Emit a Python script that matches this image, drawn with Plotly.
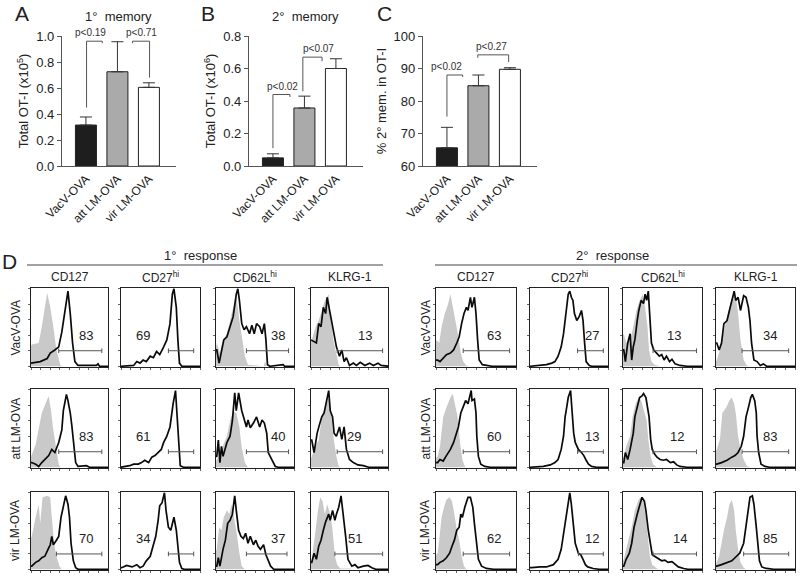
import plotly.graph_objects as go

W, H = 800, 577
FONT = "Liberation Sans, Arial, sans-serif"

def fx(p):
    return p / W

def fy(p):
    return 1 - p / H

# ---------------- top bar charts ----------------
groups = ["VacV-OVA", "att LM-OVA", "vir LM-OVA"]
bar_colors = ["#1e1e1e", "#aaaaaa", "#ffffff"]

A_vals = [0.315, 0.725, 0.605]
A_err = [0.062, 0.231, 0.035]
B_vals = [0.05, 0.357, 0.60]
B_err = [0.025, 0.073, 0.06]
C_vals = [65.6, 84.7, 89.75]
C_err = [6.3, 3.3, 0.5]

A_ticks = [0.0, 0.2, 0.4, 0.6, 0.8, 1.0]
B_ticks = [0.0, 0.2, 0.4, 0.6, 0.8]
C_ticks = [60, 70, 80, 90, 100]

# brackets: x_left, x_right, y_top, y_left_bottom, y_right_bottom, label, label_x
A_brackets = [(0.02, 0.52, 0.96, 0.45, 0.945, "p<0.19", 0.16),
              (1.48, 2.02, 0.96, 0.945, 0.68, "p<0.71", 1.76)]
B_brackets = [(0.0, 0.54, 0.44, 0.11, 0.425, "p<0.02", 0.29),
              (0.95, 1.56, 0.67, 0.46, 0.645, "p<0.07", 1.46)]
C_brackets = [(0.0, 0.5, 88.0, 75.2, 87.4, "p<0.02", -0.02),
              (0.98, 1.96, 94.2, 93.3, 92.0, "p<0.27", 1.43)]

# ---------------- flow histograms (x: 0-100 of box, y: 0-100 of box) ----------------
markers = ["CD127", "CD27<sup>hi</sup>", "CD62L<sup>hi</sup>", "KLRG-1"]

# 1° response, VacV-OVA
p1_vacv_cd127_grey = [(0, 26), (1, 28), (10, 30), (14, 51), (21, 95), (25, 76), (29, 51), (33, 21), (38, 2), (40, 0)]
p1_vacv_cd127_black = [(0, 4), (12, 6), (21, 10), (25, 17), (31, 21), (36, 25), (40, 44), (44, 72), (48, 97), (51, 68), (54, 30), (57, 6), (61, 1), (85, 1), (87, 3), (89, 0), (100, 0)]
p1_vacv_cd27_grey = []
p1_vacv_cd27_black = [(0, 0), (16, 1), (20, 6), (24, 4), (28, 8), (32, 6), (37, 13), (41, 11), (45, 19), (49, 15), (54, 25), (58, 34), (62, 55), (65, 93), (67, 100), (70, 76), (72, 34), (74, 4), (77, 0), (100, 0)]
p1_vacv_cd62l_grey = [(0, 25), (1, 30), (5, 17), (9, 34), (14, 42), (18, 59), (22, 76), (26, 93), (30, 59), (33, 38), (37, 13), (41, 2), (61, 0), (63, 6), (65, 0)]
p1_vacv_cd62l_black = [(0, 21), (1, 21), (4, 4), (7, 21), (10, 34), (14, 38), (18, 51), (22, 64), (26, 93), (28, 100), (30, 85), (33, 55), (36, 47), (39, 51), (43, 42), (46, 53), (49, 42), (52, 55), (56, 51), (59, 42), (62, 55), (64, 34), (66, 2), (69, 0), (86, 2), (88, 0), (100, 0)]
p1_vacv_klrg_grey = [(0, 32), (1, 34), (6, 51), (10, 59), (14, 72), (18, 85), (23, 93), (25, 68), (29, 34), (33, 13), (36, 2), (38, 0)]
p1_vacv_klrg_black = [(0, 34), (3, 32), (7, 30), (10, 55), (13, 51), (16, 76), (19, 68), (21, 89), (24, 72), (27, 59), (30, 38), (33, 25), (37, 13), (40, 21), (43, 6), (46, 11), (50, 1), (55, 4), (59, 1), (64, 5), (70, 1), (76, 4), (81, 1), (87, 4), (91, 1), (100, 0)]

# 1° response, att LM-OVA
p1_att_cd127_grey = [(0, 14), (1, 16), (6, 29), (10, 48), (14, 70), (18, 80), (23, 92), (26, 73), (29, 48), (33, 23), (36, 4), (38, 0)]
p1_att_cd127_black = [(0, 6), (1, 6), (6, 4), (10, 1), (14, 6), (18, 10), (23, 15), (27, 23), (31, 19), (36, 32), (40, 48), (42, 73), (45, 92), (46, 94), (48, 86), (51, 70), (53, 54), (56, 23), (58, 6), (61, 1), (72, 2), (76, 0), (100, 0)]
p1_att_cd27_grey = []
p1_att_cd27_black = [(0, 0), (11, 2), (16, 4), (22, 4), (26, 6), (30, 9), (35, 6), (39, 13), (43, 15), (47, 19), (51, 23), (54, 32), (58, 40), (62, 52), (64, 71), (66, 82), (69, 99), (71, 61), (73, 23), (75, 2), (79, 0), (100, 0)]
p1_att_cd62l_grey = [(0, 8), (1, 10), (5, 15), (9, 28), (14, 40), (18, 60), (22, 72), (26, 70), (30, 52), (33, 25), (37, 6), (41, 0)]
p1_att_cd62l_black = [(0, 14), (1, 14), (3, 35), (5, 6), (7, 27), (9, 14), (14, 32), (18, 40), (21, 60), (24, 96), (26, 73), (29, 96), (33, 73), (36, 61), (39, 52), (41, 61), (44, 51), (48, 57), (52, 65), (56, 52), (59, 61), (62, 57), (65, 44), (67, 19), (70, 13), (74, 6), (76, 1), (80, 0), (100, 0)]
p1_att_klrg_grey = [(0, 12), (1, 14), (6, 27), (10, 35), (14, 65), (18, 77), (23, 90), (26, 73), (29, 40), (33, 14), (36, 1), (38, 0)]
p1_att_klrg_black = [(0, 35), (1, 35), (4, 19), (8, 44), (11, 55), (14, 65), (17, 70), (21, 92), (23, 99), (25, 73), (28, 65), (30, 44), (33, 40), (37, 52), (40, 36), (43, 52), (46, 23), (50, 10), (55, 6), (61, 3), (68, 2), (75, 0), (100, 0)]

# 1° response, vir LM-OVA
p1_vir_cd127_grey = [(0, 40), (1, 43), (6, 68), (10, 85), (12, 60), (15, 94), (21, 96), (25, 94), (27, 68), (30, 34), (33, 17), (37, 4), (40, 0)]
p1_vir_cd127_black = [(0, 4), (1, 4), (6, 9), (10, 11), (14, 15), (18, 17), (23, 28), (25, 32), (27, 43), (29, 32), (33, 38), (36, 43), (39, 68), (42, 81), (45, 96), (48, 85), (50, 68), (52, 34), (55, 11), (58, 2), (61, 0), (100, 0)]
p1_vir_cd27_grey = []
p1_vir_cd27_black = [(0, 2), (1, 2), (7, 5), (14, 3), (20, 6), (24, 2), (28, 4), (32, 11), (37, 17), (41, 30), (44, 43), (47, 64), (49, 83), (52, 87), (55, 100), (57, 77), (60, 55), (63, 51), (65, 62), (67, 68), (70, 51), (72, 30), (74, 9), (77, 1), (80, 0), (100, 0)]
p1_vir_cd62l_grey = [(0, 24), (1, 26), (4, 55), (7, 51), (10, 68), (14, 77), (17, 72), (20, 85), (23, 68), (26, 51), (30, 21), (33, 4), (37, 0)]
p1_vir_cd62l_black = [(0, 4), (1, 4), (3, 15), (5, 4), (9, 26), (12, 38), (15, 60), (18, 64), (21, 72), (24, 96), (26, 77), (29, 51), (32, 43), (35, 40), (38, 47), (41, 34), (44, 43), (48, 32), (51, 38), (54, 30), (57, 26), (61, 32), (64, 19), (67, 11), (70, 4), (74, 0), (100, 0)]
p1_vir_klrg_grey = [(0, 11), (1, 13), (6, 51), (9, 77), (12, 94), (15, 89), (18, 72), (21, 85), (25, 72), (28, 51), (31, 17), (34, 6), (38, 1), (51, 1), (53, 0)]
p1_vir_klrg_black = [(0, 9), (1, 9), (4, 21), (7, 13), (10, 30), (13, 38), (16, 51), (19, 62), (23, 72), (25, 64), (28, 77), (31, 64), (33, 72), (36, 81), (39, 96), (42, 72), (45, 43), (48, 13), (53, 4), (57, 6), (61, 2), (68, 4), (74, 5), (79, 2), (84, 0), (100, 0)]

# 2° response, VacV-OVA
p2_vacv_cd127_grey = [(0, 32), (1, 34), (4, 30), (7, 51), (11, 68), (15, 80), (18, 93), (22, 68), (25, 55), (28, 38), (31, 17), (34, 6), (38, 1), (42, 0)]
p2_vacv_cd127_black = [(0, 8), (2, 8), (5, 6), (9, 11), (13, 15), (18, 17), (22, 21), (26, 30), (29, 38), (32, 55), (35, 68), (38, 76), (40, 72), (43, 89), (45, 76), (48, 89), (50, 68), (52, 34), (54, 8), (58, 2), (64, 1), (70, 0), (100, 0)]
p2_vacv_cd27_grey = []
p2_vacv_cd27_black = [(0, 0), (13, 1), (21, 2), (28, 4), (32, 6), (36, 13), (40, 25), (43, 42), (45, 59), (47, 76), (49, 93), (51, 97), (53, 89), (55, 85), (57, 68), (60, 59), (63, 64), (66, 72), (68, 59), (70, 30), (72, 6), (76, 1), (79, 0), (100, 0)]
p2_vacv_cd62l_grey = [(0, 40), (1, 42), (4, 30), (9, 34), (13, 51), (17, 72), (21, 85), (25, 93), (28, 76), (31, 51), (33, 21), (36, 6), (40, 2), (47, 0)]
p2_vacv_cd62l_black = [(0, 21), (1, 21), (3, 6), (6, 30), (9, 42), (11, 8), (13, 25), (15, 34), (18, 59), (20, 72), (23, 85), (26, 81), (28, 93), (30, 85), (32, 97), (34, 68), (36, 30), (39, 21), (43, 17), (46, 13), (49, 15), (52, 8), (55, 13), (59, 6), (62, 9), (66, 3), (72, 1), (81, 0), (100, 0)]
p2_vacv_klrg_grey = [(0, 6), (1, 8), (5, 21), (9, 42), (14, 64), (18, 80), (22, 93), (25, 89), (28, 68), (31, 34), (35, 8), (39, 1), (43, 0)]
p2_vacv_klrg_black = [(0, 30), (1, 30), (4, 21), (7, 30), (10, 55), (14, 59), (17, 72), (20, 85), (23, 97), (25, 85), (28, 89), (31, 72), (35, 91), (38, 89), (41, 76), (43, 59), (45, 30), (48, 8), (52, 6), (56, 1), (60, 3), (64, 0), (100, 0)]

# 2° response, att LM-OVA
p2_att_cd127_grey = [(0, 12), (2, 14), (5, 27), (9, 65), (13, 77), (18, 90), (21, 95), (24, 80), (27, 65), (30, 32), (33, 10), (36, 1), (38, 0)]
p2_att_cd127_black = [(0, 6), (2, 6), (5, 10), (9, 8), (13, 15), (18, 23), (22, 32), (26, 44), (28, 52), (31, 70), (34, 77), (37, 86), (40, 82), (42, 90), (44, 99), (45, 86), (48, 88), (50, 70), (51, 40), (53, 14), (56, 4), (61, 1), (68, 0), (100, 0)]
p2_att_cd27_grey = []
p2_att_cd27_black = [(0, 0), (17, 1), (26, 3), (32, 6), (36, 10), (40, 23), (43, 40), (45, 65), (47, 77), (49, 90), (52, 99), (53, 86), (55, 65), (56, 44), (58, 32), (62, 23), (66, 19), (69, 15), (72, 9), (75, 4), (79, 1), (85, 0), (100, 0)]
p2_att_cd62l_grey = [(0, 12), (1, 14), (4, 27), (9, 40), (12, 65), (16, 82), (20, 90), (23, 86), (26, 75), (30, 60), (32, 36), (35, 14), (38, 4), (43, 0)]
p2_att_cd62l_black = [(0, 6), (1, 6), (3, 19), (6, 10), (9, 23), (11, 32), (13, 44), (15, 65), (18, 77), (21, 90), (24, 92), (26, 95), (29, 90), (31, 77), (33, 65), (35, 36), (37, 23), (40, 17), (43, 13), (47, 10), (51, 9), (55, 10), (60, 6), (64, 7), (68, 3), (72, 1), (81, 0), (100, 0)]
p2_att_klrg_grey = [(0, 21), (1, 23), (5, 36), (8, 70), (13, 77), (17, 86), (20, 90), (23, 82), (25, 70), (28, 40), (31, 23), (35, 10), (39, 2), (43, 0)]
p2_att_klrg_black = [(0, 4), (1, 4), (7, 6), (14, 9), (20, 13), (24, 15), (28, 19), (32, 27), (35, 40), (38, 65), (41, 77), (44, 90), (46, 94), (49, 86), (51, 70), (52, 40), (54, 19), (57, 4), (62, 1), (68, 0), (100, 0)]

# 2° response, vir LM-OVA
p2_vir_cd127_grey = [(0, 19), (2, 21), (4, 38), (7, 68), (10, 81), (13, 91), (17, 94), (20, 89), (23, 72), (26, 51), (29, 38), (32, 17), (35, 4), (38, 0)]
p2_vir_cd127_black = [(0, 6), (2, 6), (5, 9), (9, 11), (13, 15), (17, 21), (20, 30), (23, 38), (26, 51), (29, 55), (31, 72), (33, 68), (36, 81), (38, 87), (40, 94), (43, 94), (46, 81), (48, 60), (51, 34), (53, 13), (57, 4), (63, 1), (72, 0), (100, 0)]
p2_vir_cd27_grey = []
p2_vir_cd27_black = [(0, 2), (2, 2), (13, 3), (21, 3), (30, 6), (36, 13), (40, 26), (43, 47), (46, 68), (49, 85), (51, 100), (53, 85), (55, 60), (58, 34), (62, 21), (65, 19), (68, 13), (71, 6), (74, 3), (81, 1), (89, 0), (100, 0)]
p2_vir_cd62l_grey = [(0, 11), (1, 13), (4, 26), (8, 43), (11, 55), (15, 77), (19, 89), (22, 94), (26, 87), (29, 68), (31, 43), (34, 17), (37, 6), (43, 1), (46, 0)]
p2_vir_cd62l_black = [(0, 4), (1, 4), (4, 13), (8, 21), (11, 34), (14, 55), (18, 72), (21, 85), (24, 94), (27, 89), (29, 77), (32, 51), (35, 30), (37, 19), (40, 17), (45, 13), (49, 11), (53, 12), (57, 9), (62, 10), (66, 6), (70, 3), (77, 1), (82, 0), (100, 0)]
p2_vir_klrg_grey = [(0, 7), (1, 9), (4, 17), (7, 34), (10, 51), (14, 68), (17, 85), (20, 91), (23, 77), (25, 51), (28, 26), (31, 9), (35, 2), (38, 0)]
p2_vir_klrg_black = [(0, 4), (1, 4), (7, 6), (14, 9), (20, 11), (26, 17), (30, 21), (35, 34), (38, 55), (41, 77), (43, 94), (46, 96), (48, 85), (51, 55), (53, 30), (55, 11), (58, 3), (64, 1), (73, 0), (100, 0)]

# gates: (start, end, percentage label, label x) per panel, rows = infection, cols = marker
p1_gates = [
    [(36, 92, "83", 72), (60, 92, "69", 28), (39, 93, "38", 80), (34, 93, "13", 70)],
    [(36, 92, "83", 72), (60, 92, "61", 28), (39, 93, "40", 80), (34, 93, "29", 56)],
    [(33, 92, "70", 72), (60, 92, "34", 28), (39, 91, "37", 80), (31, 93, "51", 57)],
]
p2_gates = [
    [(34, 92, "63", 72), (61, 94, "27", 79), (38, 93, "13", 64), (33, 92, "34", 68)],
    [(34, 92, "60", 72), (61, 94, "13", 80), (38, 93, "12", 68), (33, 92, "83", 68)],
    [(34, 92, "62", 72), (62, 94, "12", 80), (38, 93, "14", 72), (35, 92, "85", 68)],
]

p1_hists = [
    [(p1_vacv_cd127_grey, p1_vacv_cd127_black), (p1_vacv_cd27_grey, p1_vacv_cd27_black),
     (p1_vacv_cd62l_grey, p1_vacv_cd62l_black), (p1_vacv_klrg_grey, p1_vacv_klrg_black)],
    [(p1_att_cd127_grey, p1_att_cd127_black), (p1_att_cd27_grey, p1_att_cd27_black),
     (p1_att_cd62l_grey, p1_att_cd62l_black), (p1_att_klrg_grey, p1_att_klrg_black)],
    [(p1_vir_cd127_grey, p1_vir_cd127_black), (p1_vir_cd27_grey, p1_vir_cd27_black),
     (p1_vir_cd62l_grey, p1_vir_cd62l_black), (p1_vir_klrg_grey, p1_vir_klrg_black)],
]
p2_hists = [
    [(p2_vacv_cd127_grey, p2_vacv_cd127_black), (p2_vacv_cd27_grey, p2_vacv_cd27_black),
     (p2_vacv_cd62l_grey, p2_vacv_cd62l_black), (p2_vacv_klrg_grey, p2_vacv_klrg_black)],
    [(p2_att_cd127_grey, p2_att_cd127_black), (p2_att_cd27_grey, p2_att_cd27_black),
     (p2_att_cd62l_grey, p2_att_cd62l_black), (p2_att_klrg_grey, p2_att_klrg_black)],
    [(p2_vir_cd127_grey, p2_vir_cd127_black), (p2_vir_cd27_grey, p2_vir_cd27_black),
     (p2_vir_cd62l_grey, p2_vir_cd62l_black), (p2_vir_klrg_grey, p2_vir_klrg_black)],
]

# ---------------- layout geometry (pixels) ----------------
bar_x_px = [(62, 176), (249, 363), (423, 537)]
bar_y_px = (36, 166)
g1_cols = [(31, 108), (121, 200), (216, 294), (311, 388)]
g2_cols = [(436, 516), (530, 608), (623, 702), (716, 795)]
hist_rows = [(288, 367), (389, 468), (492, 570)]

fig = go.Figure()
layout = dict(width=W, height=H, margin=dict(l=0, r=0, t=0, b=0, autoexpand=False),
              paper_bgcolor="white", plot_bgcolor="white", showlegend=False,
              font=dict(family=FONT, color="#222", size=12))
shapes = []
annotations = []

AX = "#555555"


def text_at(t, x, y, size, angle=0, color="#222"):
    annotations.append(dict(x=fx(x), y=fy(y), xref="paper", yref="paper", text=t,
                            xanchor="center", yanchor="middle", textangle=angle,
                            showarrow=False, font=dict(size=size, color=color)))


bar_sets = [(A_vals, A_err, A_ticks, [0, 1.0], ".1f", "Total OT-I (x10<sup>5</sup>)", A_brackets),
            (B_vals, B_err, B_ticks, [0, 0.8], ".1f", "Total OT-I (x10<sup>6</sup>)", B_brackets),
            (C_vals, C_err, C_ticks, [60, 100], "d", "% 2° mem. in OT-I", C_brackets)]

for i, (vals, err, ticks, yr, fmt, ytitle, brackets) in enumerate(bar_sets):
    n = i + 1
    sfx = "" if n == 1 else str(n)
    base = yr[0]
    fig.add_trace(go.Bar(
        x=groups, y=[v - base for v in vals], base=base,
        marker=dict(color=bar_colors, line=dict(color="#222", width=1)),
        width=0.667,
        error_y=dict(type="data", symmetric=False, array=err, arrayminus=[0, 0, 0],
                     color="#333", thickness=1, width=6),
        xaxis="x" + sfx, yaxis="y" + sfx, hoverinfo="skip"))
    x0, x1 = bar_x_px[i]
    layout["xaxis" + sfx] = dict(domain=[fx(x0), fx(x1)], anchor="y" + sfx,
                                 range=[-0.76, 2.86], type="category", automargin=False,
                                 showline=True, linecolor=AX, linewidth=1.2,
                                 ticks="", tickangle=-45,
                                 tickfont=dict(size=12, color="#222"), showgrid=False,
                                 zeroline=False, fixedrange=True)
    layout["yaxis" + sfx] = dict(domain=[fy(bar_y_px[1]), fy(bar_y_px[0])], anchor="x" + sfx,
                                 range=yr, tickvals=ticks, tickformat=fmt, automargin=False,
                                 showline=True, linecolor=AX, linewidth=1.2,
                                 ticks="outside", ticklen=4, tickcolor=AX,
                                 tickfont=dict(size=13, color="#222"), showgrid=False,
                                 zeroline=False,
                                 title=dict(text=ytitle, font=dict(size=13, color="#222"), standoff=4))
    for (xl, xr, yt, ylb, yrb, lab, lx) in brackets:
        for (a, b, c, d) in [(xl, yt, xr, yt), (xl, yt, xl, ylb), (xr, yt, xr, yrb)]:
            shapes.append(dict(type="line", xref="x" + sfx, yref="y" + sfx,
                               x0=a, y0=b, x1=c, y1=d, line=dict(color="#555", width=1)))
        annotations.append(dict(x=lx, y=yt, xref="x" + sfx, yref="y" + sfx, text=lab,
                                xanchor="center", yanchor="bottom", yshift=1,
                                showarrow=False, font=dict(size=10, color="#333")))

# panel letters and titles
for (t, x, y) in [("A", 22, 13), ("B", 208, 13), ("C", 384, 13), ("D", 9, 262)]:
    text_at(t, x, y, 21)
for (t, x, y) in [("1°  memory", 118, 17), ("2°  memory", 305, 17),
                  ("1°  response", 200, 255), ("2°  response", 612, 255)]:
    text_at(t, x, y, 13)

# header rules for D
for (a, b) in [(27, 383), (435, 797)]:
    shapes.append(dict(type="line", xref="paper", yref="paper", x0=fx(a), x1=fx(b),
                       y0=fy(265), y1=fy(265), line=dict(color="#444", width=1)))

# histograms
ax_n = 4
for gi, (cols, hists, gates, lab_x) in enumerate([(g1_cols, p1_hists, p1_gates, 15),
                                                   (g2_cols, p2_hists, p2_gates, 425)]):
    for ci, (cx0, cx1) in enumerate(cols):
        text_at(markers[ci], (cx0 + cx1) / 2, 277, 12)
    for ri, (ry0, ry1) in enumerate(hist_rows):
        text_at(groups[ri], lab_x, (ry0 + ry1) / 2, 12, angle=-90)
        for ci, (cx0, cx1) in enumerate(cols):
            xa, ya = "x%d" % ax_n, "y%d" % ax_n
            grey, black = hists[ri][ci]
            if grey:
                fig.add_trace(go.Scatter(x=[p[0] for p in grey], y=[p[1] for p in grey],
                                         mode="lines", fill="tozeroy", fillcolor="#c9c9c9",
                                         line=dict(width=0, color="#c9c9c9"),
                                         xaxis=xa, yaxis=ya, hoverinfo="skip"))
            fig.add_trace(go.Scatter(x=[p[0] for p in black], y=[p[1] for p in black],
                                     mode="lines", line=dict(width=1.7, color="#0a0a0a"),
                                     xaxis=xa, yaxis=ya, hoverinfo="skip"))
            layout["xaxis%d" % ax_n] = dict(domain=[fx(cx0), fx(cx1)], anchor=ya, range=[0, 100],
                                            automargin=False,
                                            showline=True, mirror=True, linecolor="#222", linewidth=1,
                                            ticks="outside", ticklen=2, tickcolor="#666",
                                            tickvals=[0, 12.5, 25, 37.5, 50, 62.5, 75, 87.5, 100],
                                            showticklabels=False, showgrid=False, zeroline=False)
            layout["yaxis%d" % ax_n] = dict(domain=[fy(ry1), fy(ry0)], anchor=xa, range=[-1, 101],
                                            automargin=False,
                                            showline=True, mirror=True, linecolor="#222", linewidth=1,
                                            ticks="outside", ticklen=2, tickcolor="#666",
                                            tickvals=[0, 20, 40, 60, 80, 100],
                                            showticklabels=False, showgrid=False, zeroline=False)
            gs, ge, glab, glx = gates[ri][ci]
            for (a, b, c, d) in [(gs, 20, ge, 20), (gs, 17, gs, 23), (ge, 17, ge, 23)]:
                shapes.append(dict(type="line", xref=xa, yref=ya, x0=a, y0=b, x1=c, y1=d,
                                   line=dict(color="#555", width=1)))
            annotations.append(dict(x=glx, y=40, xref=xa, yref=ya, text=glab, showarrow=False,
                                    xanchor="center", yanchor="middle",
                                    font=dict(size=13, color="#222")))
            ax_n += 1

layout["shapes"] = shapes
layout["annotations"] = annotations
fig.update_layout(**layout)
fig.write_html("out.html", config={"displayModeBar": False},
               post_script="document.body.style.margin='0px';")
